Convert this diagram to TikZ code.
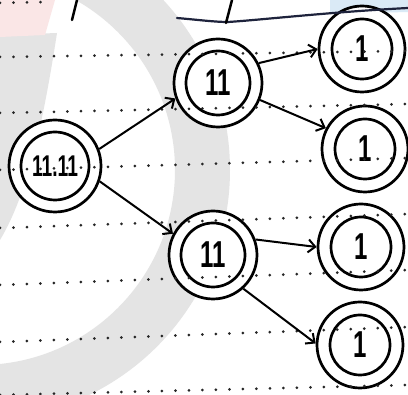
\documentclass[tikz,border=0pt]{standalone}
\usepackage{fontspec}
\setmainfont{Liberation Sans}
\usetikzlibrary{arrows.meta}
\definecolor{wmgrey}{RGB}{228,228,228}
\definecolor{wmpink}{RGB}{250,230,230}
\definecolor{wmblue}{RGB}{218,234,246}
\definecolor{inkblue}{RGB}{30,35,60}
\newcommand{\hand}[1]{\scalebox{0.8}[1.25]{#1}}
\begin{document}
\begin{tikzpicture}[x=1pt,y=-1pt,
  ln/.style={line width=2.7pt, draw=black},
  cell/.style={circle, ln, fill=white, minimum size=88pt, inner sep=0pt, font=\bfseries\fontsize{30}{30}\selectfont},
  link/.style={line width=2pt, -{Straight Barb[length=7pt,width=13pt,line width=2pt]}},
  ruled/.style={line width=3pt, line cap=round, dash pattern=on 0pt off 13.5pt, black!85},
  wm/.style={fill=wmgrey}
]
\useasboundingbox (0,0) rectangle (408,395);
\fill[white] (0,0) rectangle (408,395);
% watermark
\begin{scope}
  \clip (0,0) rectangle (408,395);
  \fill[wm, even odd rule] (-20,170) circle (250pt) (-20,170) circle (195pt);
  \fill[wm] (0,35) -- (57,33) .. controls (45,110) and (30,190) .. (0,240) -- cycle;
  \fill[wmpink] (0,0) -- (55,0) -- (45,35) -- (0,37) -- cycle;
  \fill[wmblue] (330,0) -- (408,0) -- (408,12) -- (330,14) -- cycle;
\end{scope}
% nodes
\node[cell, minimum size=92pt, font=\bfseries\fontsize{24}{24}\selectfont] (root) at (55,166) {\hand{11.11}};
\node[cell] (top) at (218,83) {\hand{11}};
\node[cell] (bot) at (213,255) {\hand{11}};
\node[cell, minimum size=86pt] (r1) at (362,49) {\hand{1}};
\node[cell, minimum size=86pt] (r2) at (365,149) {\hand{1}};
\node[cell, minimum size=86pt] (r3) at (361,247) {\hand{1}};
\node[cell, minimum size=86pt] (r4) at (360,345) {\hand{1}};
\foreach \n/\r in {root/34,top/32,bot/32,r1/30,r2/30,r3/30,r4/30}
  \draw[ln] (\n.center) circle (\r pt);
% ruled dotted lines
\draw[ruled] (0,3) -- (50,2);
\draw[ruled] (0,57) -- (408,51);
\draw[ruled] (0,113) -- (408,104);
\draw[ruled] (0,170) -- (408,158);
\draw[ruled] (0,228) -- (408,214);
\draw[ruled] (0,285) -- (408,270);
\draw[ruled] (0,342) -- (408,327);
\draw[ruled] (0,395) -- (408,385);
% heading fragments (cut off at top)
\draw[line width=2.2pt, inkblue, line cap=round] (177,18) .. controls (200,20) and (215,22) .. (228,22) .. controls (260,20) and (330,12) .. (408,8);
\draw[line width=2.5pt, line cap=round] (232,0) -- (226,23);
\draw[line width=2.5pt, line cap=round] (77,0) -- (72,20);
% connectors
\draw[link] (root.21) -- (top.200);
\draw[link] (root.-19) -- (bot.152);
\draw[link] (top.26) -- (r1.180);
\draw[link] (top.-22) -- (r2.152);
\draw[link] (bot.20) -- (r3.180);
\draw[link] (bot.-48) -- (r4.178);
\end{tikzpicture}
\end{document}
